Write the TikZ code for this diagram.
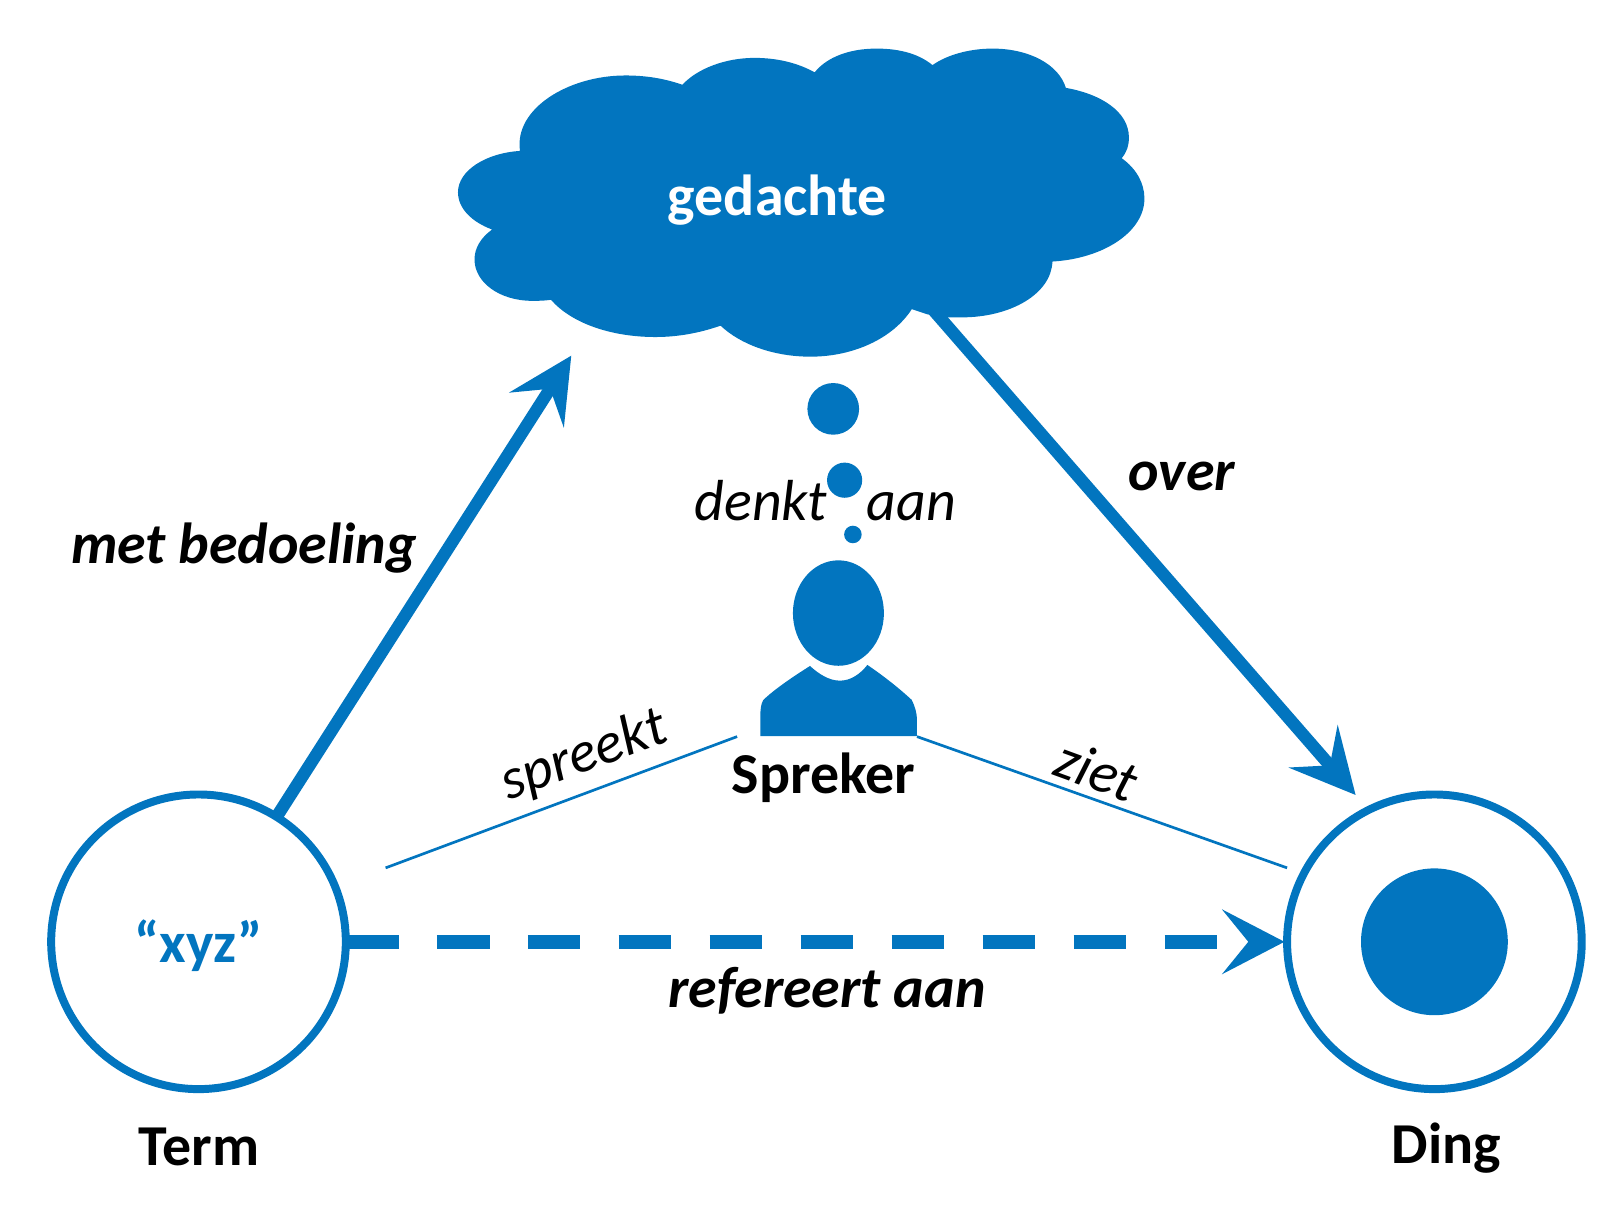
\documentclass[tikz,border=0pt]{standalone}
\usepackage{fontspec}
\setmainfont{Carlito}
\usetikzlibrary{arrows.meta}
\definecolor{blu}{HTML}{0275BF}
\tikzset{
  ring/.style={circle,draw=blu,line width=7.7pt,minimum size=285pt,inner sep=0pt,outer sep=0pt},
  bubble/.style={circle,fill=blu,inner sep=0pt,outer sep=0pt},
  thickarrow/.style={draw=blu,line width=12pt,-{Stealth[length=62pt,width=62pt,inset=24pt]}},
  thinline/.style={draw=blu,line width=2.6pt},
  dasharrow/.style={draw=blu,line width=13pt,dash pattern=on 51pt off 37pt,shorten >=2.5pt,-{Stealth[length=60pt,width=62pt,inset=25pt]}},
  lblb/.style={font=\fontsize{56}{66}\selectfont\bfseries,text=black,inner sep=0pt},
  lblbi/.style={font=\fontsize{56}{66}\selectfont\bfseries\itshape,text=black,inner sep=0pt},
  lbli/.style={font=\fontsize{56}{66}\selectfont\itshape,text=black,inner sep=0pt},
}
\begin{document}
\begin{tikzpicture}[x=1pt,y=-1pt]
\useasboundingbox (0,0) rectangle (1568,1169.5);
% cloud
\fill[blu] (503,146) .. controls (497,105) and (550,73) .. (605,73)
 .. controls (625,73) and (643,76) .. (660,82)
 .. controls (675,66) and (702,56) .. (730,56)
 .. controls (752,56) and (772,61) .. (788,70)
 .. controls (800,55) and (822,47) .. (848,47)
 .. controls (872,47) and (890,53) .. (902,63)
 .. controls (916,53) and (938,47) .. (960,47)
 .. controls (995,47) and (1024,62) .. (1031,85)
 .. controls (1065,91) and (1092,108) .. (1092,133)
 .. controls (1092,141) and (1090,147) .. (1085,153)
 .. controls (1099,163) and (1107,177) .. (1107,192)
 .. controls (1107,224) and (1068,250) .. (1018,253)
 .. controls (1017,284) and (978,307) .. (930,307)
 .. controls (925,307) and (921,307) .. (916,307)
 -- (897,304) -- (882,299)
 .. controls (864,327) and (826,345) .. (784,345)
 .. controls (748,345) and (716,333) .. (697,315)
 .. controls (677,322) and (656,326) .. (634,326)
 .. controls (590,326) and (552,312) .. (533,290)
 .. controls (526,291) and (520,291) .. (515,291)
 .. controls (483,291) and (459,273) .. (459,251)
 .. controls (459,240) and (465,230) .. (476,222)
 .. controls (457,215) and (443,202) .. (443,186)
 .. controls (443,165) and (470,148) .. (503,146) -- cycle;
\node[lblb,text=white] (gedachte) at (752,194) {gedachte};
% bubbles
\node[bubble,minimum size=50pt] (b1) at (806,395.5) {};
\node[bubble,minimum size=34pt] (b2) at (817,464.5) {};
\node[bubble,minimum size=17pt] (b3) at (825,517) {};
% person
\fill[blu] (811,593) ellipse [x radius=44,y radius=51];
\fill[blu] (783.5,644.2) .. controls (792,652) and (802,658.4) .. (812.5,658.4)
 .. controls (823,658.4) and (832,652) .. (839,643.2)
 .. controls (855,654) and (870,666) .. (881.9,677)
 .. controls (885,683) and (887,690) .. (887,696.5)
 -- (887,712) -- (735.5,712) -- (735.5,693)
 .. controls (735.5,686) and (736,681) .. (738.4,677)
 .. controls (750,666) and (768,654) .. (783.5,644.2) -- cycle;
\node[lblb] (spreker) at (796.5,752) {Spreker};
% circles
\node[ring] (term) at (192,911) {};
\node[ring] (ding) at (1387.5,911) {};
\node[bubble,minimum size=142pt] (dingcore) at (1387.5,911) {};
\node[lblb,text=blu] (xyz) at (192,914.5) {“xyz”};
\node[lblb] (termlbl) at (192.5,1109) {Term};
\node[lblb] (dinglbl) at (1399,1111) {Ding};
% connector ends
\coordinate (tipthought) at (552.6,344);
\coordinate (cloudout) at (902,299);
\coordinate (tipding) at (1311.3,769);
\coordinate (spa) at (373,839.5);
\coordinate (spb) at (713,712.5);
\coordinate (zia) at (887,712.5);
\coordinate (zib) at (1245,839.5);
\draw[thickarrow] (term.58) -- (tipthought);
\draw[thickarrow] (cloudout) -- (tipding);
\draw[thinline] (spa) -- (spb);
\draw[thinline] (zia) -- (zib);
\draw[dasharrow] (term.east) -- (ding.west);
% labels
\node[lblbi] (metb) at (236,530) {met bedoeling};
\node[lblbi] (over) at (1143,461) {over};
\node[lblbi] (ref) at (800,958) {refereert aan};
\node[lbli,anchor=base] (denkt) at (736,503) {denkt};
\node[lbli,anchor=base] (aan) at (881.5,503) {aan};
\node[lbli,rotate=20] (spreekt) at (565,731.5) {spreekt};
\node[lbli,rotate=-20] (ziet) at (1061,745) {ziet};
\end{tikzpicture}
\end{document}
